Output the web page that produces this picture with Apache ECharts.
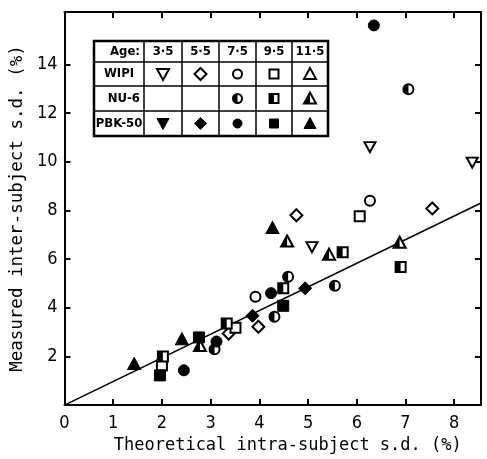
<!DOCTYPE html>
<html>
<head>
<meta charset="utf-8">
<script src="https://cdn.jsdelivr.net/npm/echarts@6/dist/echarts.min.js"></script>
<style>
  html, body { margin: 0; padding: 0; background: #fff; }
  #chart { width: 487px; height: 459px; }
</style>
</head>
<body>
<div id="chart"></div>
<script>
// tick labels
const xTicks = [0, 1, 2, 3, 4, 5, 6, 7, 8];
const yTicks = [2, 4, 6, 8, 10, 12, 14];
const ages = ['3·5', '5·5', '7·5', '9·5', '11·5'];
const tests = ['WIPI', 'NU-6', 'PBK-50'];

// [theoretical intra-subject s.d., measured inter-subject s.d.]
const wipi35 = [[6.27, 10.6], [8.37, 9.96], [5.08, 6.49]];
const wipi55 = [[7.55, 8.08], [4.76, 7.8], [3.98, 3.22], [3.37, 2.94]];
const wipi75 = [[6.27, 8.4], [3.92, 4.45]];
const wipi95 = [[6.06, 7.76], [3.51, 3.18], [2.0, 1.63]];
const wipi115 = [];

const nu75 = [[7.06, 12.98], [4.59, 5.27], [5.55, 4.9], [4.31, 3.63], [3.08, 2.29]];
const nu95 = [[5.71, 6.28], [6.9, 5.67], [4.49, 4.8], [3.33, 3.35], [2.02, 2.0]];
const nu115 = [[4.57, 6.74], [5.43, 6.2], [6.88, 6.69], [2.78, 2.45]];

const pbk35 = [];
const pbk55 = [[4.94, 4.8], [3.86, 3.67]];
const pbk75 = [[6.35, 15.6], [4.24, 4.6], [2.45, 1.43], [3.12, 2.61]];
const pbk95 = [[4.49, 4.08], [2.76, 2.78], [1.96, 1.22]];
const pbk115 = [[4.27, 7.3], [1.43, 1.71], [2.41, 2.73]];

// line through origin
const fitLine = [[0, 0], [8.55, 8.3]];

const SZ = 11;
const shapes = {
  inv: 'path://M0,0 L20,0 L10,20 Z',
  dia: 'path://M10,0 L20,10 L10,20 L0,10 Z',
  cir: 'circle',
  sq: 'rect',
  tri: 'path://M10,0 L20,18 L0,18 Z'
};
const halves = {
  cir: 'path://M10,0 A10,10 0 0 0 10,20 Z',
  sq: 'rect',
  tri: 'path://M10,0 L10,18 L0,18 Z'
};
function symSize(shape, mode) {
  const base = mode === 'open' ? SZ - 1 : SZ;
  if (shape === 'tri') return [base + 2, base + 1];
  if (shape === 'inv') return [base + 1, base];
  if (shape === 'dia') return base + 2;
  return base;
}

function sc(name, data, shape, mode) {
  return {
    name: name, type: 'scatter', data: data, symbol: shapes[shape], symbolSize: symSize(shape, mode),
    itemStyle: mode === 'filled'
      ? { color: '#000', borderColor: '#000', borderWidth: 1, opacity: 1 }
      : { color: '#fff', borderColor: '#000', borderWidth: 2, opacity: 1 },
    z: 3
  };
}
function half(name, data, shape) {
  const s = symSize(shape, 'open');
  const w = Array.isArray(s) ? s[0] : s, h = Array.isArray(s) ? s[1] : s;
  return {
    name: name + '-half', type: 'scatter', data: data, symbol: halves[shape],
    symbolSize: [w / 2, h], symbolOffset: [-w / 4, 0],
    itemStyle: { color: '#000', opacity: 1 }, z: 4, silent: true
  };
}

const series = [
  { type: 'line', data: fitLine, symbol: 'none', lineStyle: { color: '#000', width: 1.6 }, z: 2 },
  sc('WIPI 3.5', wipi35, 'inv', 'open'),
  sc('WIPI 5.5', wipi55, 'dia', 'open'),
  sc('WIPI 7.5', wipi75, 'cir', 'open'),
  sc('WIPI 9.5', wipi95, 'sq', 'open'),
  sc('WIPI 11.5', wipi115, 'tri', 'open'),
  sc('NU-6 7.5', nu75, 'cir', 'open'), half('NU-6 7.5', nu75, 'cir'),
  sc('NU-6 9.5', nu95, 'sq', 'open'), half('NU-6 9.5', nu95, 'sq'),
  sc('NU-6 11.5', nu115, 'tri', 'open'), half('NU-6 11.5', nu115, 'tri'),
  sc('PBK-50 3.5', pbk35, 'inv', 'filled'),
  sc('PBK-50 5.5', pbk55, 'dia', 'filled'),
  sc('PBK-50 7.5', pbk75, 'cir', 'filled'),
  sc('PBK-50 9.5', pbk95, 'sq', 'filled'),
  sc('PBK-50 11.5', pbk115, 'tri', 'filled')
];

// legend table
const colX = [94, 144, 182, 219, 256, 292, 328];
const rowY = [41, 62, 86, 111, 136];
const font = '"DejaVu Sans Condensed", "DejaVu Sans", sans-serif';
const g = [];
g.push({ type: 'rect', shape: { x: colX[0], y: rowY[0], width: colX[6] - colX[0], height: rowY[4] - rowY[0] },
  style: { fill: '#fff', stroke: '#000', lineWidth: 2.5 }, z: 10 });
colX.slice(1, 6).forEach(function (x) {
  g.push({ type: 'line', shape: { x1: x, y1: rowY[0], x2: x, y2: rowY[4] }, style: { stroke: '#000', lineWidth: 1.5 }, z: 11 });
});
rowY.slice(1, 4).forEach(function (y) {
  g.push({ type: 'line', shape: { x1: colX[0], y1: y, x2: colX[6], y2: y }, style: { stroke: '#000', lineWidth: 1.5 }, z: 11 });
});
function cellText(txt, c, r, align) {
  const x = align === 'right' ? colX[c + 1] - 4 : (colX[c] + colX[c + 1]) / 2;
  g.push({ type: 'text', x: x, y: (rowY[r] + rowY[r + 1]) / 2,
    style: { text: txt, font: 'bold 13px ' + font, fill: '#000', align: align || 'center', verticalAlign: 'middle' }, z: 12 });
}
cellText('Age:', 0, 0, 'right');
ages.forEach(function (a, i) { cellText(a, i + 1, 0); });
cellText(tests[0], 0, 1);
cellText(tests[1], 0, 2, 'right');
cellText(tests[2], 0, 3);

function legSym(shape, mode, c, r) {
  const cx = (colX[c] + colX[c + 1]) / 2, cy = (rowY[r] + rowY[r + 1]) / 2, h = 5;
  const style = mode === 'filled' ? { fill: '#000', stroke: '#000', lineWidth: 1 } : { fill: '#fff', stroke: '#000', lineWidth: 2 };
  let el;
  if (shape === 'cir') el = { type: 'circle', shape: { cx: cx, cy: cy, r: 4.5 } };
  else if (shape === 'sq') el = { type: 'rect', shape: { x: cx - 4.5, y: cy - 4.5, width: 9, height: 9 } };
  else if (shape === 'tri') el = { type: 'polygon', shape: { points: [[cx, cy - h - 1], [cx + h + 1, cy + h], [cx - h - 1, cy + h]] } };
  else if (shape === 'inv') el = { type: 'polygon', shape: { points: [[cx - h - 1, cy - h], [cx + h + 1, cy - h], [cx, cy + h + 1]] } };
  else el = { type: 'polygon', shape: { points: [[cx, cy - h - 1], [cx + h + 1, cy], [cx, cy + h + 1], [cx - h - 1, cy]] } };
  el.style = style; el.z = 12;
  g.push(el);
  if (mode === 'half') {
    let hl;
    if (shape === 'cir') hl = { type: 'sector', shape: { cx: cx, cy: cy, r0: 0, r: 4.5, startAngle: Math.PI / 2, endAngle: Math.PI * 1.5 } };
    else if (shape === 'sq') hl = { type: 'rect', shape: { x: cx - 4.5, y: cy - 4.5, width: 4.5, height: 9 } };
    else hl = { type: 'polygon', shape: { points: [[cx, cy - h - 1], [cx, cy + h], [cx - h - 1, cy + h]] } };
    hl.style = { fill: '#000' }; hl.z = 13;
    g.push(hl);
  }
}
const legShapes = ['inv', 'dia', 'cir', 'sq', 'tri'];
legShapes.forEach(function (s, i) {
  legSym(s, 'open', i + 1, 1);
  if (i >= 2) legSym(s, 'half', i + 1, 2);
  legSym(s, 'filled', i + 1, 3);
});

const axisLine = { show: true, onZero: false, lineStyle: { color: '#000', width: 2 } };
const tick = { show: true, inside: true, length: 6, lineStyle: { color: '#000', width: 2 } };
const titleFont = '"DejaVu Sans Mono", monospace';

const option = {
  animation: false,
  backgroundColor: '#fff',
  grid: { left: 62, top: 12, right: 6, bottom: 52 },
  xAxis: [
    { type: 'value', min: 0, max: 8.55, position: 'bottom',
      name: 'Theoretical intra-subject s.d. (%)', nameLocation: 'middle', nameGap: 27,
      nameTextStyle: { fontFamily: titleFont, fontSize: 17, color: '#000', padding: [0, 0, 0, 30] },
      axisLine: axisLine, splitLine: { show: false },
      axisTick: Object.assign({ customValues: xTicks.slice(1) }, tick),
      axisLabel: { customValues: xTicks, fontFamily: font, fontSize: 18, color: '#000', margin: 9 } },
    { type: 'value', min: 0, max: 8.55, position: 'top',
      axisLine: axisLine, splitLine: { show: false },
      axisTick: Object.assign({ customValues: xTicks.slice(1) }, tick),
      axisLabel: { show: false } }
  ],
  yAxis: [
    { type: 'value', min: 0, max: 16.15, position: 'left',
      name: 'Measured inter-subject s.d. (%)', nameLocation: 'middle', nameGap: 28,
      nameTextStyle: { fontFamily: titleFont, fontSize: 17.5, color: '#000' },
      axisLine: axisLine, splitLine: { show: false },
      axisTick: Object.assign({ customValues: yTicks }, tick),
      axisLabel: { customValues: yTicks, fontFamily: font, fontSize: 18, color: '#000', margin: 7 } },
    { type: 'value', min: 0, max: 16.15, position: 'right',
      axisLine: axisLine, splitLine: { show: false },
      axisTick: Object.assign({ customValues: yTicks }, tick),
      axisLabel: { show: false } }
  ],
  series: series,
  graphic: g
};

const chart = echarts.init(document.getElementById('chart'));
chart.setOption(option);
</script>
</body>
</html>
